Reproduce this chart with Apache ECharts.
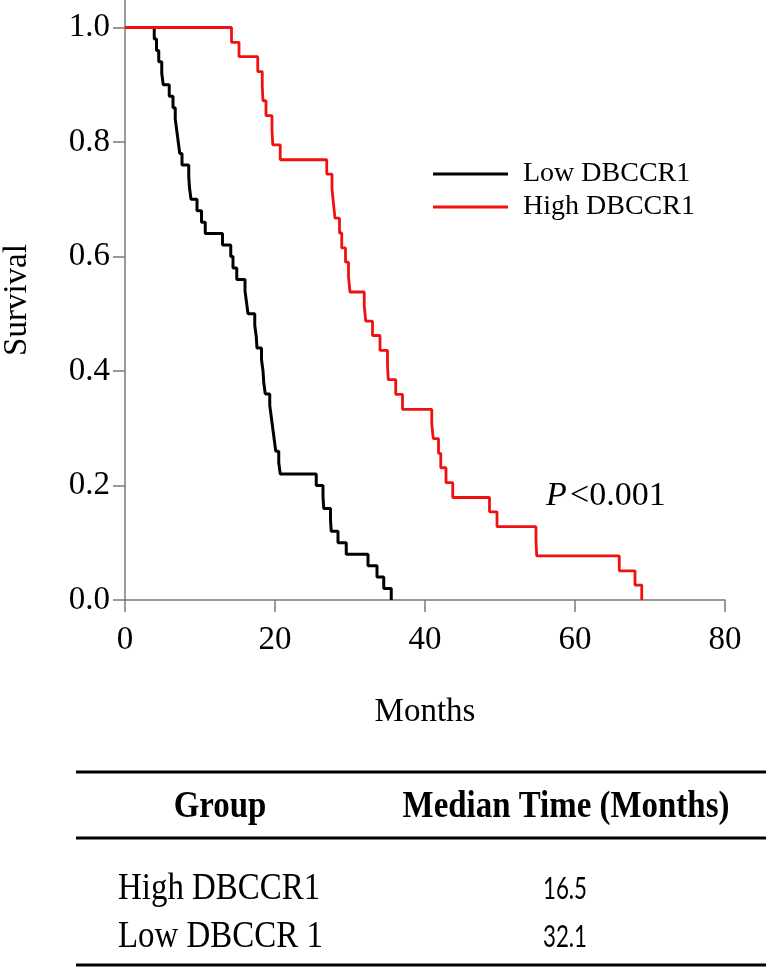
<!DOCTYPE html>
<html><head><meta charset="utf-8">
<script src="https://cdn.jsdelivr.net/npm/echarts@6/dist/echarts.min.js"></script>
<style>html,body{margin:0;padding:0;background:#fff}#c{width:768px;height:967px}</style>
</head><body><div id="c"></div>
<script>
// ---- data ----
const seriesNames = ['Low DBCCR1', 'High DBCCR1'];
const lowTimes = [0, 3.9, 4.2, 4.5, 4.9, 5.1, 5.9, 6.4, 6.7, 6.9, 7.1, 7.3, 7.6, 8.5, 8.6, 8.8, 9.6, 10.2, 10.7,
  13.0, 14.1, 14.4, 14.9, 16.0, 16.2, 16.4, 17.3, 17.5, 17.6, 18.2, 18.4, 18.5, 18.7, 19.3, 19.5, 19.7, 19.9,
  20.1, 20.5, 20.7, 25.5, 26.4, 26.5, 27.4, 27.5, 28.4, 29.5, 32.4, 33.6, 34.5, 35.5];
const lowSurv = [1.00, 0.98, 0.96, 0.94, 0.92, 0.90, 0.88, 0.86, 0.84, 0.82, 0.80, 0.78, 0.76, 0.74, 0.72, 0.70,
  0.68, 0.66, 0.64, 0.62, 0.60, 0.58, 0.56, 0.54, 0.52, 0.50, 0.48, 0.46, 0.44, 0.42, 0.40, 0.38, 0.36, 0.34,
  0.32, 0.30, 0.28, 0.26, 0.24, 0.22, 0.20, 0.18, 0.16, 0.14, 0.12, 0.10, 0.08, 0.06, 0.04, 0.02, 0.00];
const highTimes = [0, 14.2, 15.2, 17.7, 18.3, 18.4, 18.8, 19.6, 19.7, 20.7, 26.9, 27.6, 27.8, 28.0, 28.6, 28.9,
  29.4, 29.8, 30.0, 31.9, 32.1, 33.0, 34.0, 35.0, 35.1, 36.1, 37.0, 40.9, 41.1, 41.8, 42.1, 42.8, 43.7, 48.6,
  49.6, 54.8, 54.9, 65.9, 68.0, 68.9];
const highSurv = [1.000, 0.974, 0.949, 0.923, 0.897, 0.872, 0.846, 0.821, 0.795, 0.769, 0.744, 0.718, 0.692,
  0.667, 0.641, 0.615, 0.590, 0.564, 0.538, 0.513, 0.487, 0.462, 0.436, 0.410, 0.385, 0.359, 0.333, 0.308,
  0.282, 0.256, 0.231, 0.205, 0.179, 0.154, 0.128, 0.103, 0.077, 0.051, 0.026, 0.000];
const yTicks = [0, 0.2, 0.4, 0.6, 0.8, 1.0];
const xTicks = [0, 20, 40, 60, 80];
const pLabel = 'P';
const pValue = '<0.001';
const tableHeader = ['Group', 'Median Time (Months)'];
const tableGroups = ['High DBCCR1', 'Low DBCCR 1'];
const tableMedians = ['16.5', '32.1'];

// ---- chart ----
const serif = '"Liberation Serif", "Times New Roman", serif';
const axisColor = '#7a7a7a';
const chart = echarts.init(document.getElementById('c'), null, {renderer: 'canvas'});

const zip = (t, s) => t.map((v, i) => [v, s[i]]);

const tableRowY = [889, 937];
const graphics = [
  {type: 'text', x: 546, y: 496, style: {
    text: '{i|' + pLabel + '} {n|' + pValue + '}', verticalAlign: 'middle', align: 'left',
    rich: {
      i: {fontFamily: serif, fontStyle: 'italic', fontSize: 34, fill: '#000'},
      n: {fontFamily: serif, fontSize: 34, fill: '#000'}
    }}},
  {type: 'line', shape: {x1: 76, y1: 772, x2: 766, y2: 772}, style: {stroke: '#000', lineWidth: 3}},
  {type: 'line', shape: {x1: 76, y1: 838, x2: 766, y2: 838}, style: {stroke: '#000', lineWidth: 3}},
  {type: 'line', shape: {x1: 76, y1: 965, x2: 766, y2: 965}, style: {stroke: '#000', lineWidth: 3}},
  {type: 'text', x: 220, y: 807, scaleX: 0.89, style: {text: tableHeader[0], align: 'center', verticalAlign: 'middle',
    fontFamily: serif, fontWeight: 'bold', fontSize: 37, fill: '#000'}},
  {type: 'text', x: 566, y: 807, scaleX: 0.89, style: {text: tableHeader[1], align: 'center', verticalAlign: 'middle',
    fontFamily: serif, fontWeight: 'bold', fontSize: 37, fill: '#000'}}
];
tableGroups.forEach((g, i) => {
  graphics.push({type: 'text', x: 118, y: tableRowY[i], scaleX: 0.89, style: {text: g, align: 'left', verticalAlign: 'middle',
    fontFamily: serif, fontSize: 37, fill: '#000'}});
  graphics.push({type: 'text', x: 565, y: tableRowY[i], scaleX: 0.72, style: {text: tableMedians[i], align: 'center', verticalAlign: 'middle',
    fontFamily: 'Lato, "Open Sans", sans-serif', fontSize: 31, fill: '#000'}});
});

chart.setOption({
  animation: false,
  backgroundColor: '#fff',
  grid: {left: 125, right: 43, top: 0, bottom: 367, containLabel: false, outerBoundsMode: 'none'},
  legend: {
    orient: 'vertical', left: 428, top: 155, itemWidth: 75, itemHeight: 3, itemGap: 5,
    icon: 'rect',
    textStyle: {fontFamily: serif, fontSize: 28, color: '#000', padding: [0, 0, 0, 10]},
    data: seriesNames,
    selectedMode: false
  },
  xAxis: {
    type: 'value', min: 0, max: 80, interval: 20,
    name: 'Months', nameLocation: 'middle', nameGap: 96,
    nameTextStyle: {fontFamily: serif, fontSize: 33, color: '#000'},
    axisLine: {show: true, lineStyle: {color: axisColor, width: 1.5}},
    axisTick: {show: true, length: 12, lineStyle: {color: axisColor, width: 1.5}, customValues: xTicks},
    axisLabel: {margin: 24, fontFamily: serif, fontSize: 33, color: '#000', customValues: xTicks},
    splitLine: {show: false}
  },
  yAxis: {
    type: 'value', min: 0, max: 1.048,
    name: 'Survival', nameLocation: 'middle', nameGap: 91, nameRotate: 90,
    nameTextStyle: {fontFamily: serif, fontSize: 33, color: '#000'},
    axisLine: {show: true, lineStyle: {color: axisColor, width: 1.5}},
    axisTick: {show: true, length: 12, lineStyle: {color: axisColor, width: 1.5}, customValues: yTicks},
    axisLabel: {margin: 15, fontFamily: serif, fontSize: 33, color: '#000', customValues: yTicks,
      formatter: v => v.toFixed(1)},
    splitLine: {show: false}
  },
  series: [
    {name: seriesNames[0], type: 'line', step: 'end', symbol: 'none', data: zip(lowTimes, lowSurv),
      lineStyle: {color: '#000', width: 3}, itemStyle: {color: '#000'}, z: 2},
    {name: seriesNames[1], type: 'line', step: 'end', symbol: 'none', data: zip(highTimes, highSurv),
      lineStyle: {color: '#f01010', width: 2.8}, itemStyle: {color: '#f01010'}, z: 3}
  ],
  graphic: graphics
});
</script></body></html>
